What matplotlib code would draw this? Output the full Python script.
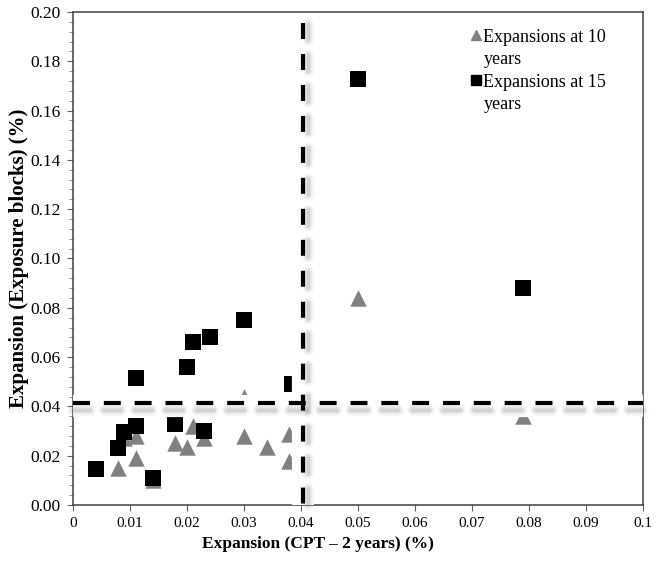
import matplotlib
matplotlib.use("Agg")
import matplotlib.pyplot as plt
import matplotlib.transforms as mtrans
from matplotlib.lines import Line2D
from matplotlib.ticker import MultipleLocator, FuncFormatter

# expansion at 2 years (CPT) vs exposure blocks
cpt_10 = [0.008, 0.009, 0.011, 0.011, 0.014, 0.018, 0.020, 0.021, 0.023, 0.030,
          0.030, 0.034, 0.038, 0.038, 0.050, 0.079]
blk_10 = [0.015, 0.027, 0.019, 0.028, 0.010, 0.025, 0.0235, 0.032, 0.027, 0.028,
          0.044, 0.0235, 0.029, 0.018, 0.084, 0.036]

cpt_15 = [0.004, 0.008, 0.009, 0.011, 0.011, 0.014, 0.018, 0.020, 0.021, 0.023,
          0.024, 0.030, 0.0385, 0.050, 0.079]
blk_15 = [0.0145, 0.023, 0.0295, 0.032, 0.0515, 0.011, 0.033, 0.056, 0.066, 0.030,
          0.068, 0.075, 0.049, 0.173, 0.088]

lab_10 = ["Expansions at 10", "years"]
lab_15 = ["Expansions at 15", "years"]

limit_cpt = 0.0404
limit_blk = 0.0415

plt.rcParams['font.family'] = ['Liberation Serif', 'DejaVu Serif']
plt.rcParams['lines.scale_dashes'] = False

fig = plt.figure(figsize=[6.56, 5.71], dpi=100)
ax = fig.add_axes([0.111, 0.1156, 0.869, 0.8634])

ax.scatter(cpt_10, blk_10, marker="^", s=140, color="#808080", linewidths=0, zorder=3)
ax.scatter(cpt_15, blk_15, marker="s", s=125, color="black", linewidths=0, zorder=3)

ax.set_xlim(0, 0.1)
ax.set_ylim(0, 0.2)
ax.xaxis.set_major_locator(MultipleLocator(0.01))
ax.yaxis.set_major_locator(MultipleLocator(0.02))
ax.yaxis.set_minor_locator(MultipleLocator(0.004))
ax.xaxis.set_major_formatter(FuncFormatter(lambda v, p: ("%.2f" % v).rstrip("0").rstrip(".") if v else "0"))
ax.yaxis.set_major_formatter(FuncFormatter(lambda v, p: "%.2f" % v))
ax.tick_params(axis="x", labelsize=11, length=4, width=0.8, color="#606060", pad=5)
ax.tick_params(axis="y", labelsize=12.5, length=4, width=0.8, color="#606060", pad=5)
ax.tick_params(axis="y", which="minor", length=3, width=0.6, color="#808080")
for s in ax.spines.values():
    s.set_color("#404040")
    s.set_linewidth(1.1)

ax.set_xlabel("Expansion (CPT \u2013 2 years) (%)", fontsize=12.5, fontweight="bold")
ax.xaxis.set_label_coords(0.43, -0.062)
ax.set_ylabel("Expansion (Exposure blocks) (%)", fontsize=15, fontweight="bold")
ax.yaxis.set_label_coords(-0.077, 0.5)

# limit lines: white band, soft shadow, then black dashes
hx = [0, 0.1]
hy = [limit_blk, limit_blk]
vx = [limit_cpt, limit_cpt]
vy = [0.1955, 0]
band_h = mtrans.offset_copy(ax.transData, fig=fig, x=0, y=-3, units="dots")
ax.plot(hx, hy, color="white", lw=16, solid_capstyle="butt", zorder=5, clip_on=False, transform=band_h)
ax.plot(vx, vy, color="white", lw=16, solid_capstyle="butt", zorder=5, clip_on=False)
sh_h = mtrans.offset_copy(ax.transData, fig=fig, x=0, y=-7, units="dots")
sh_v = mtrans.offset_copy(ax.transData, fig=fig, x=5, y=-1, units="dots")
for lw, a in [(8, 0.06), (6, 0.08), (4, 0.11), (2.5, 0.14)]:
    ax.plot(hx, hy, color="gray", lw=lw, alpha=a, dashes=(12.2, 10), transform=sh_h,
            zorder=6, dash_capstyle="round", clip_on=False)
    ax.plot(vx, vy, color="gray", lw=lw, alpha=a, dashes=(11.5, 10.8), transform=sh_v,
            zorder=6, dash_capstyle="round", clip_on=False)
ax.plot(hx, hy, color="black", lw=3, dashes=(12.2, 10), zorder=7, dash_capstyle="butt", clip_on=False)
ax.plot(vx, vy, color="black", lw=3, dashes=(11.5, 10.8), zorder=7, dash_capstyle="butt", clip_on=False)

blank = Line2D([], [], lw=0, marker="")
handles = [Line2D([], [], lw=0, marker="^", ms=7.5, color="#808080"), blank,
           Line2D([], [], lw=0, marker="s", ms=7.5, color="black"), blank]
ax.legend(handles, lab_10 + lab_15, loc="upper left", bbox_to_anchor=(0.695, 0.966),
          frameon=False, fontsize=13, handletextpad=0.0, handlelength=0.8,
          labelspacing=0.3, borderaxespad=0, borderpad=0)

fig.savefig("out.png", dpi=100)
